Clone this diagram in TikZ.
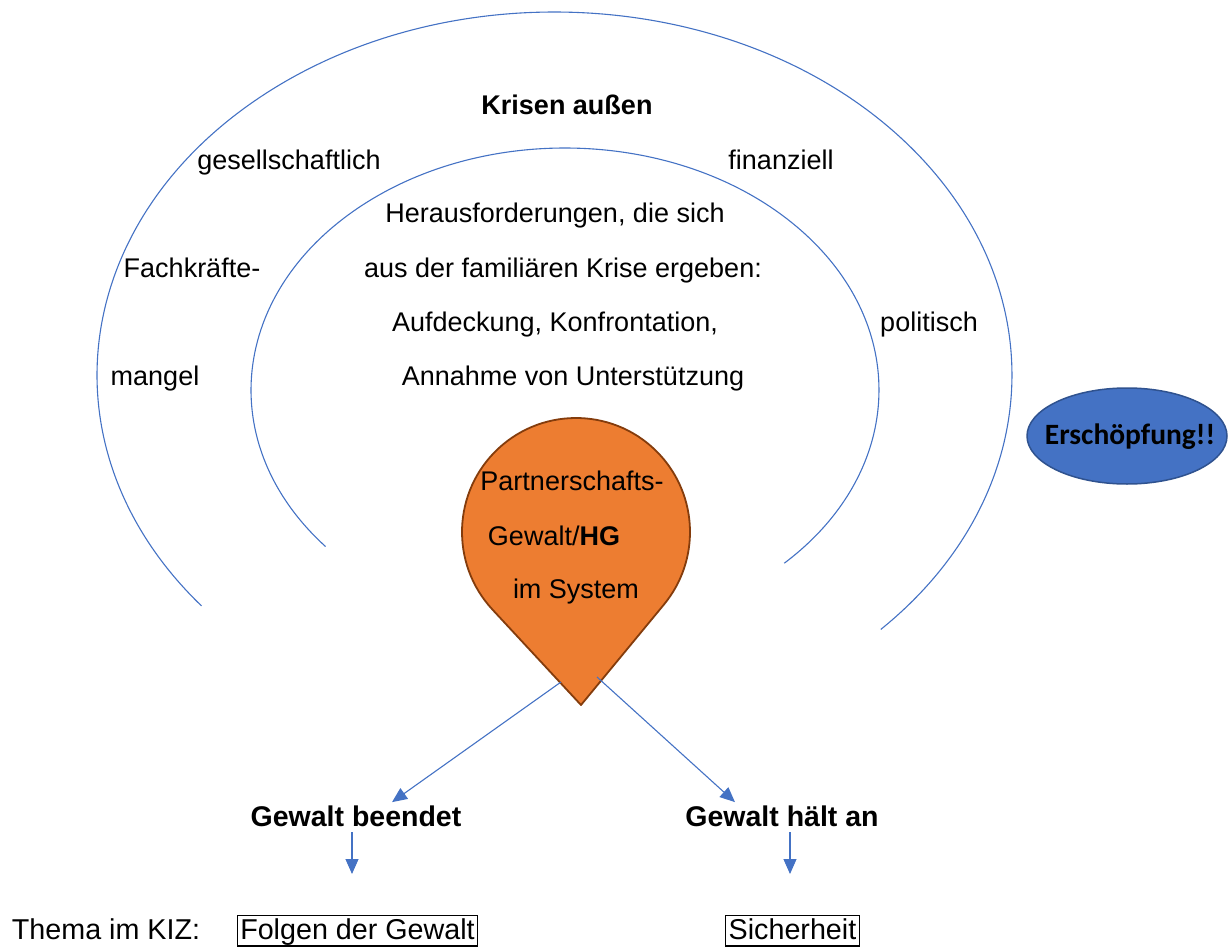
\documentclass[tikz,border=0pt]{standalone}
\usepackage{fontspec}
\setmainfont{Liberation Sans}
\newfontfamily\calibri{Carlito}
\usetikzlibrary{arrows.meta, positioning, calc, shapes.geometric}
\definecolor{arcblue}{HTML}{4472C4}
\definecolor{ovalborder}{HTML}{2F528F}
\definecolor{droporange}{HTML}{ED7D31}
\definecolor{dropborder}{HTML}{843C0C}
\tikzset{
  txt/.style={font=\fontsize{27}{32}\selectfont, anchor=base, inner sep=3pt},
  btxt/.style={txt, font=\fontsize{28.5}{34}\bfseries\selectfont},
  low/.style={txt, font=\fontsize{28.7}{34}\selectfont},
  topic/.style={low, draw, line width=1.4pt, inner xsep=3pt, inner ysep=3.5pt,
    text height=20.5pt, text depth=3pt},
  ring/.style={draw=arcblue, line width=1.1pt},
  arr/.style={draw=arcblue, line width=1.1pt, -{Triangle[width=13pt,length=15pt]}},
}

\begin{document}
\begin{tikzpicture}[x=1pt, y=1pt]
\useasboundingbox (0,0) rectangle (1231,-947);

% Rings
\draw[ring] (554.5,-375) ++(219.5:457.5 and 363)
  arc[start angle=219.5, end angle=-44.5, x radius=457.5, y radius=363];
\draw[ring] (565,-390) ++(220.3:314 and 242)
  arc[start angle=220.3, end angle=-45.7, x radius=314, y radius=242];

% Outer ring labels
\node[btxt, font=\fontsize{27}{32}\bfseries\selectfont] (krisen) at (567,-115) {Krisen außen};
\node[txt] (gesell) at (289,-169) {gesellschaftlich};
\node[txt] (finanz) at (781,-169) {finanziell};
\node[txt] (fach) at (192,-277) {Fachkräfte-};
\node[txt] (mangel) at (155,-385) {mangel};
\node[txt] (politisch) at (929,-331) {politisch};

% Inner ring labels
\node[txt] (her1) at (555,-222) {Herausforderungen, die sich};
\node[txt] (her2) at (563,-277) {aus der familiären Krise ergeben:};
\node[txt] (her3) at (555,-331) {Aufdeckung, Konfrontation,};
\node[txt] (her4) at (573,-385) {Annahme von Unterstützung};

% Teardrop
\draw[fill=droporange, draw=dropborder, line width=1.8pt, line join=round]
  (581,-705) -- ($(576,-532)+(222.9:114)$)
  arc[start angle=222.9, end angle=-39.5, radius=114] -- cycle;
\node[txt] (part) at (572,-490) {Partnerschafts-};
\node[txt] (gewhg) at (554,-545) {Gewalt/\textbf{HG}};
\node[txt] (system) at (576,-598) {im System};
\coordinate (dropl) at (561,-682);
\coordinate (dropr) at (597,-677);

% Exhaustion
\node[ellipse, draw=ovalborder, fill=arcblue, line width=1.5pt,
  minimum width=200, minimum height=96,
  label={[font=\calibri\fontsize{29.5}{34}\bfseries\selectfont, xshift=3pt, yshift=-1pt]center:Erschöpfung!!}]
  (ersch) at (1127,-436) {};

% Outcomes
\node[btxt] (beendet) at (356,-826) {Gewalt beendet};
\node[btxt] (haelt) at (782,-826) {Gewalt hält an};
\draw[arr] (dropl) -- ([xshift=36]beendet.north);
\draw[arr] (dropr) -- ([xshift=-47]haelt.north);

\coordinate (e1) at (352,-874);
\coordinate (e2) at (790,-874);
\draw[arr] ([yshift=-3]e1 |- beendet.south) -- (e1);
\draw[arr] ([yshift=-3]e2 |- haelt.south) -- (e2);

% Topics
\node[low] (thema) at (106,-939.3) {Thema im KIZ:};
\node[topic] (folgen) at (357.5,-939.3) {Folgen der Gewalt};
\node[topic] (sicher) at (792.5,-939.3) {Sicherheit};

\end{tikzpicture}
\end{document}
